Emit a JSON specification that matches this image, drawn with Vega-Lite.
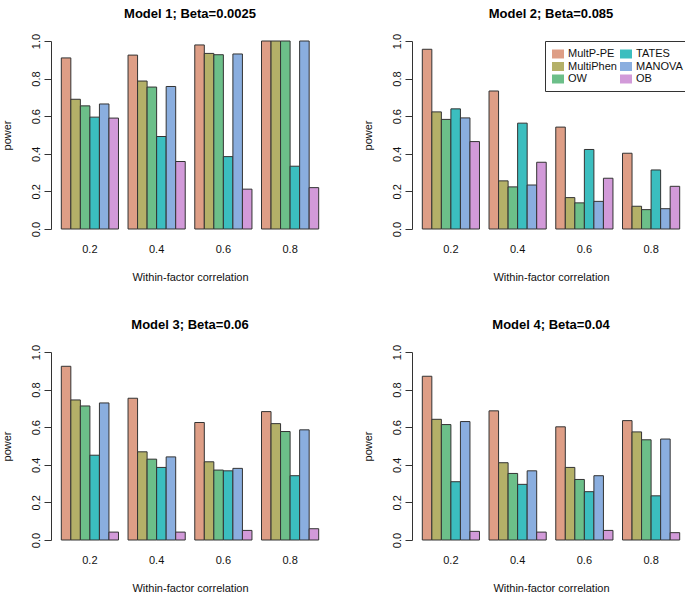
{
  "$schema": "https://vega.github.io/schema/vega-lite/v6.json",
  "background": "white",
  "padding": {"left": 1, "top": 8, "right": 0, "bottom": 0},
  "datasets": {
    "power": [
      {"model": 1, "corr": "0.2", "method": "MultP-PE", "power": 0.91},
      {"model": 1, "corr": "0.2", "method": "MultiPhen", "power": 0.69},
      {"model": 1, "corr": "0.2", "method": "OW", "power": 0.655},
      {"model": 1, "corr": "0.2", "method": "TATES", "power": 0.595},
      {"model": 1, "corr": "0.2", "method": "MANOVA", "power": 0.665},
      {"model": 1, "corr": "0.2", "method": "OB", "power": 0.59},
      {"model": 1, "corr": "0.4", "method": "MultP-PE", "power": 0.925},
      {"model": 1, "corr": "0.4", "method": "MultiPhen", "power": 0.787},
      {"model": 1, "corr": "0.4", "method": "OW", "power": 0.755},
      {"model": 1, "corr": "0.4", "method": "TATES", "power": 0.492},
      {"model": 1, "corr": "0.4", "method": "MANOVA", "power": 0.758},
      {"model": 1, "corr": "0.4", "method": "OB", "power": 0.359},
      {"model": 1, "corr": "0.6", "method": "MultP-PE", "power": 0.979},
      {"model": 1, "corr": "0.6", "method": "MultiPhen", "power": 0.934},
      {"model": 1, "corr": "0.6", "method": "OW", "power": 0.927},
      {"model": 1, "corr": "0.6", "method": "TATES", "power": 0.385},
      {"model": 1, "corr": "0.6", "method": "MANOVA", "power": 0.931},
      {"model": 1, "corr": "0.6", "method": "OB", "power": 0.212},
      {"model": 1, "corr": "0.8", "method": "MultP-PE", "power": 1.0},
      {"model": 1, "corr": "0.8", "method": "MultiPhen", "power": 1.0},
      {"model": 1, "corr": "0.8", "method": "OW", "power": 1.0},
      {"model": 1, "corr": "0.8", "method": "TATES", "power": 0.334},
      {"model": 1, "corr": "0.8", "method": "MANOVA", "power": 1.0},
      {"model": 1, "corr": "0.8", "method": "OB", "power": 0.22},
      {"model": 2, "corr": "0.2", "method": "MultP-PE", "power": 0.956},
      {"model": 2, "corr": "0.2", "method": "MultiPhen", "power": 0.623},
      {"model": 2, "corr": "0.2", "method": "OW", "power": 0.583},
      {"model": 2, "corr": "0.2", "method": "TATES", "power": 0.639},
      {"model": 2, "corr": "0.2", "method": "MANOVA", "power": 0.591},
      {"model": 2, "corr": "0.2", "method": "OB", "power": 0.465},
      {"model": 2, "corr": "0.4", "method": "MultP-PE", "power": 0.734},
      {"model": 2, "corr": "0.4", "method": "MultiPhen", "power": 0.256},
      {"model": 2, "corr": "0.4", "method": "OW", "power": 0.224},
      {"model": 2, "corr": "0.4", "method": "TATES", "power": 0.563},
      {"model": 2, "corr": "0.4", "method": "MANOVA", "power": 0.234},
      {"model": 2, "corr": "0.4", "method": "OB", "power": 0.355},
      {"model": 2, "corr": "0.6", "method": "MultP-PE", "power": 0.542},
      {"model": 2, "corr": "0.6", "method": "MultiPhen", "power": 0.167},
      {"model": 2, "corr": "0.6", "method": "OW", "power": 0.139},
      {"model": 2, "corr": "0.6", "method": "TATES", "power": 0.423},
      {"model": 2, "corr": "0.6", "method": "MANOVA", "power": 0.147},
      {"model": 2, "corr": "0.6", "method": "OB", "power": 0.27},
      {"model": 2, "corr": "0.8", "method": "MultP-PE", "power": 0.403},
      {"model": 2, "corr": "0.8", "method": "MultiPhen", "power": 0.121},
      {"model": 2, "corr": "0.8", "method": "OW", "power": 0.103},
      {"model": 2, "corr": "0.8", "method": "TATES", "power": 0.314},
      {"model": 2, "corr": "0.8", "method": "MANOVA", "power": 0.108},
      {"model": 2, "corr": "0.8", "method": "OB", "power": 0.227},
      {"model": 3, "corr": "0.2", "method": "MultP-PE", "power": 0.924},
      {"model": 3, "corr": "0.2", "method": "MultiPhen", "power": 0.745},
      {"model": 3, "corr": "0.2", "method": "OW", "power": 0.713},
      {"model": 3, "corr": "0.2", "method": "TATES", "power": 0.451},
      {"model": 3, "corr": "0.2", "method": "MANOVA", "power": 0.729},
      {"model": 3, "corr": "0.2", "method": "OB", "power": 0.042},
      {"model": 3, "corr": "0.4", "method": "MultP-PE", "power": 0.754},
      {"model": 3, "corr": "0.4", "method": "MultiPhen", "power": 0.469},
      {"model": 3, "corr": "0.4", "method": "OW", "power": 0.43},
      {"model": 3, "corr": "0.4", "method": "TATES", "power": 0.386},
      {"model": 3, "corr": "0.4", "method": "MANOVA", "power": 0.442},
      {"model": 3, "corr": "0.4", "method": "OB", "power": 0.042},
      {"model": 3, "corr": "0.6", "method": "MultP-PE", "power": 0.625},
      {"model": 3, "corr": "0.6", "method": "MultiPhen", "power": 0.416},
      {"model": 3, "corr": "0.6", "method": "OW", "power": 0.372},
      {"model": 3, "corr": "0.6", "method": "TATES", "power": 0.368},
      {"model": 3, "corr": "0.6", "method": "MANOVA", "power": 0.381},
      {"model": 3, "corr": "0.6", "method": "OB", "power": 0.051},
      {"model": 3, "corr": "0.8", "method": "MultP-PE", "power": 0.683},
      {"model": 3, "corr": "0.8", "method": "MultiPhen", "power": 0.619},
      {"model": 3, "corr": "0.8", "method": "OW", "power": 0.577},
      {"model": 3, "corr": "0.8", "method": "TATES", "power": 0.342},
      {"model": 3, "corr": "0.8", "method": "MANOVA", "power": 0.586},
      {"model": 3, "corr": "0.8", "method": "OB", "power": 0.06},
      {"model": 4, "corr": "0.2", "method": "MultP-PE", "power": 0.871},
      {"model": 4, "corr": "0.2", "method": "MultiPhen", "power": 0.642},
      {"model": 4, "corr": "0.2", "method": "OW", "power": 0.614},
      {"model": 4, "corr": "0.2", "method": "TATES", "power": 0.31},
      {"model": 4, "corr": "0.2", "method": "MANOVA", "power": 0.63},
      {"model": 4, "corr": "0.2", "method": "OB", "power": 0.046},
      {"model": 4, "corr": "0.4", "method": "MultP-PE", "power": 0.687},
      {"model": 4, "corr": "0.4", "method": "MultiPhen", "power": 0.411},
      {"model": 4, "corr": "0.4", "method": "OW", "power": 0.354},
      {"model": 4, "corr": "0.4", "method": "TATES", "power": 0.296},
      {"model": 4, "corr": "0.4", "method": "MANOVA", "power": 0.368},
      {"model": 4, "corr": "0.4", "method": "OB", "power": 0.042},
      {"model": 4, "corr": "0.6", "method": "MultP-PE", "power": 0.602},
      {"model": 4, "corr": "0.6", "method": "MultiPhen", "power": 0.386},
      {"model": 4, "corr": "0.6", "method": "OW", "power": 0.322},
      {"model": 4, "corr": "0.6", "method": "TATES", "power": 0.257},
      {"model": 4, "corr": "0.6", "method": "MANOVA", "power": 0.342},
      {"model": 4, "corr": "0.6", "method": "OB", "power": 0.051},
      {"model": 4, "corr": "0.8", "method": "MultP-PE", "power": 0.635},
      {"model": 4, "corr": "0.8", "method": "MultiPhen", "power": 0.575},
      {"model": 4, "corr": "0.8", "method": "OW", "power": 0.533},
      {"model": 4, "corr": "0.8", "method": "TATES", "power": 0.235},
      {"model": 4, "corr": "0.8", "method": "MANOVA", "power": 0.537},
      {"model": 4, "corr": "0.8", "method": "OB", "power": 0.039}
    ]
  },
  "data": {"name": "power"},
  "columns": 2,
  "spacing": {"row": 123, "column": 83},
  "bounds": "flush",
  "resolve": {"legend": {"color": "independent"}},
  "config": {
    "view": {"stroke": null},
    "font": "Liberation Sans",
    "title": {"fontSize": 13, "fontWeight": "bold", "color": "black", "anchor": "middle", "offset": 12, "font": "Liberation Sans"},
    "axis": {"labelFontSize": 11, "titleFontSize": 11, "titleFontWeight": "normal", "labelColor": "#111", "titleColor": "#111", "domainColor": "#333", "tickColor": "#333", "grid": false, "labelFont": "Liberation Sans", "titleFont": "Liberation Sans"}
  },
  "concat": [
    {
      "title": "Model 1; Beta=0.0025",
      "width": 278, "height": 188,
      "transform": [{"filter": "datum.model == 1"}],
      "mark": {"type": "bar", "stroke": "#333", "strokeWidth": 1},
      "encoding": {
        "x": {"field": "corr", "type": "nominal", "sort": ["0.2", "0.4", "0.6", "0.8"], "scale": {"paddingInner": 0.142857, "paddingOuter": 0.1543}, "axis": {"title": "Within-factor correlation", "labelAngle": 0, "domain": false, "ticks": false, "labelPadding": 14, "titlePadding": 17}},
        "xOffset": {"field": "method", "type": "nominal", "sort": ["MultP-PE", "MultiPhen", "OW", "TATES", "MANOVA", "OB"], "scale": {"paddingInner": 0, "paddingOuter": 0}},
        "y": {"field": "power", "type": "quantitative", "stack": null, "scale": {"domain": [0, 1], "nice": false}, "axis": {"title": "power", "values": [0, 0.2, 0.4, 0.6, 0.8, 1], "format": ".1f", "labelAngle": -90, "labelAlign": "center", "labelBaseline": "bottom", "tickSize": 7, "labelPadding": 3, "titlePadding": 18}},
        "y2": {"datum": 0},
        "color": {"field": "method", "type": "nominal", "scale": {"domain": ["MultP-PE", "MultiPhen", "OW", "TATES", "MANOVA", "OB"], "range": ["#DE9E86", "#B4B068", "#6CBF89", "#3BBEBF", "#8AAEDF", "#D29AD9"]}, "legend": null}
      }
    },
    {
      "title": "Model 2; Beta=0.085",
      "width": 278, "height": 188,
      "transform": [{"filter": "datum.model == 2"}],
      "mark": {"type": "bar", "stroke": "#333", "strokeWidth": 1},
      "encoding": {
        "x": {"field": "corr", "type": "nominal", "sort": ["0.2", "0.4", "0.6", "0.8"], "scale": {"paddingInner": 0.142857, "paddingOuter": 0.1543}, "axis": {"title": "Within-factor correlation", "labelAngle": 0, "domain": false, "ticks": false, "labelPadding": 14, "titlePadding": 17}},
        "xOffset": {"field": "method", "type": "nominal", "sort": ["MultP-PE", "MultiPhen", "OW", "TATES", "MANOVA", "OB"], "scale": {"paddingInner": 0, "paddingOuter": 0}},
        "y": {"field": "power", "type": "quantitative", "stack": null, "scale": {"domain": [0, 1], "nice": false}, "axis": {"title": "power", "values": [0, 0.2, 0.4, 0.6, 0.8, 1], "format": ".1f", "labelAngle": -90, "labelAlign": "center", "labelBaseline": "bottom", "tickSize": 7, "labelPadding": 3, "titlePadding": 18}},
        "y2": {"datum": 0},
        "color": {"field": "method", "type": "nominal", "scale": {"domain": ["MultP-PE", "MultiPhen", "OW", "TATES", "MANOVA", "OB"], "range": ["#DE9E86", "#B4B068", "#6CBF89", "#3BBEBF", "#8AAEDF", "#D29AD9"]}, "legend": {"title": null, "orient": "top-right", "offset": 0, "columns": 2, "symbolType": "M-1,-0.75H1V0.75H-1Z", "symbolSize": 144, "symbolStrokeWidth": 0, "symbolOpacity": 1, "labelFontSize": 11, "labelColor": "#111", "labelFont": "Liberation Sans", "labelOffset": 4, "columnPadding": 3, "rowPadding": 1.5, "padding": 7, "strokeColor": "#333", "fillColor": "white"}}
      }
    },
    {
      "title": "Model 3; Beta=0.06",
      "width": 278, "height": 188,
      "transform": [{"filter": "datum.model == 3"}],
      "mark": {"type": "bar", "stroke": "#333", "strokeWidth": 1},
      "encoding": {
        "x": {"field": "corr", "type": "nominal", "sort": ["0.2", "0.4", "0.6", "0.8"], "scale": {"paddingInner": 0.142857, "paddingOuter": 0.1543}, "axis": {"title": "Within-factor correlation", "labelAngle": 0, "domain": false, "ticks": false, "labelPadding": 14, "titlePadding": 17}},
        "xOffset": {"field": "method", "type": "nominal", "sort": ["MultP-PE", "MultiPhen", "OW", "TATES", "MANOVA", "OB"], "scale": {"paddingInner": 0, "paddingOuter": 0}},
        "y": {"field": "power", "type": "quantitative", "stack": null, "scale": {"domain": [0, 1], "nice": false}, "axis": {"title": "power", "values": [0, 0.2, 0.4, 0.6, 0.8, 1], "format": ".1f", "labelAngle": -90, "labelAlign": "center", "labelBaseline": "bottom", "tickSize": 7, "labelPadding": 3, "titlePadding": 18}},
        "y2": {"datum": 0},
        "color": {"field": "method", "type": "nominal", "scale": {"domain": ["MultP-PE", "MultiPhen", "OW", "TATES", "MANOVA", "OB"], "range": ["#DE9E86", "#B4B068", "#6CBF89", "#3BBEBF", "#8AAEDF", "#D29AD9"]}, "legend": null}
      }
    },
    {
      "title": "Model 4; Beta=0.04",
      "width": 278, "height": 188,
      "transform": [{"filter": "datum.model == 4"}],
      "mark": {"type": "bar", "stroke": "#333", "strokeWidth": 1},
      "encoding": {
        "x": {"field": "corr", "type": "nominal", "sort": ["0.2", "0.4", "0.6", "0.8"], "scale": {"paddingInner": 0.142857, "paddingOuter": 0.1543}, "axis": {"title": "Within-factor correlation", "labelAngle": 0, "domain": false, "ticks": false, "labelPadding": 14, "titlePadding": 17}},
        "xOffset": {"field": "method", "type": "nominal", "sort": ["MultP-PE", "MultiPhen", "OW", "TATES", "MANOVA", "OB"], "scale": {"paddingInner": 0, "paddingOuter": 0}},
        "y": {"field": "power", "type": "quantitative", "stack": null, "scale": {"domain": [0, 1], "nice": false}, "axis": {"title": "power", "values": [0, 0.2, 0.4, 0.6, 0.8, 1], "format": ".1f", "labelAngle": -90, "labelAlign": "center", "labelBaseline": "bottom", "tickSize": 7, "labelPadding": 3, "titlePadding": 18}},
        "y2": {"datum": 0},
        "color": {"field": "method", "type": "nominal", "scale": {"domain": ["MultP-PE", "MultiPhen", "OW", "TATES", "MANOVA", "OB"], "range": ["#DE9E86", "#B4B068", "#6CBF89", "#3BBEBF", "#8AAEDF", "#D29AD9"]}, "legend": null}
      }
    }
  ]
}
